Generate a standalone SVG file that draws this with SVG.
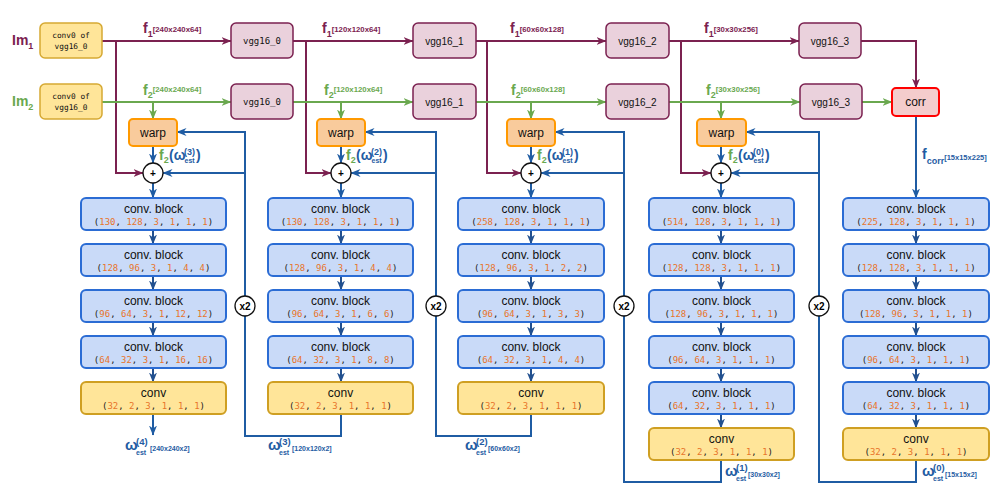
<svg xmlns="http://www.w3.org/2000/svg" width="1003" height="494" viewBox="0 0 1003 494">
<style>
text{font-family:"Liberation Sans",Arial,sans-serif}
.cb{fill:#c9daf8;stroke:#2b6cd4;stroke-width:2}
.cv{fill:#ffe599;stroke:#cf9f22;stroke-width:2}
.c0{fill:#ffe599;stroke:#d6a933;stroke-width:1.5}
.vg{fill:#ead1dc;stroke:#7b2150;stroke-width:1.5}
.wp{fill:#f9cb9c;stroke:#ff9900;stroke-width:2}
.cr{fill:#f4cccc;stroke:#ff0000;stroke-width:2}
.pc{fill:#fff;stroke:#111;stroke-width:1.3}
.t12{font-size:12px;fill:#111;text-anchor:middle}
.num{font-family:"DejaVu Sans Mono","Liberation Mono",monospace;font-size:9px;fill:#222;text-anchor:middle}
.o{fill:#e8742a}
.mono{font-family:"DejaVu Sans Mono","Liberation Mono",monospace;fill:#111;text-anchor:middle}
.vt{font-size:10px;fill:#111;text-anchor:middle}
.m{stroke:#7b2150;stroke-width:2;fill:none}
.g{stroke:#6aa84f;stroke-width:2;fill:none}
.b{stroke:#1f5ca3;stroke-width:2;fill:none}
.d{stroke:#22508f;stroke-width:2;fill:none}
.fm{fill:#7b2150;font-weight:bold}
.fg{fill:#6aa84f;font-weight:bold}
.fb{fill:#1f5ca3;font-weight:bold}
</style>
<defs>
<marker id="aM" viewBox="0 0 10 10" refX="9.5" refY="5" markerWidth="10" markerHeight="10" markerUnits="userSpaceOnUse" orient="auto"><path d="M0,1 L10,5 L0,9 L3,5 z" fill="#7b2150"/></marker>
<marker id="aG" viewBox="0 0 10 10" refX="9.5" refY="5" markerWidth="10" markerHeight="10" markerUnits="userSpaceOnUse" orient="auto"><path d="M0,1 L10,5 L0,9 L3,5 z" fill="#6aa84f"/></marker>
<marker id="aB" viewBox="0 0 10 10" refX="9.5" refY="5" markerWidth="10" markerHeight="10" markerUnits="userSpaceOnUse" orient="auto"><path d="M0,1 L10,5 L0,9 L3,5 z" fill="#1f5ca3"/></marker>
<marker id="aD" viewBox="0 0 10 10" refX="9.5" refY="5" markerWidth="10" markerHeight="10" markerUnits="userSpaceOnUse" orient="auto"><path d="M0,1 L10,5 L0,9 L3,5 z" fill="#22508f"/></marker>
</defs>
<rect width="1003" height="494" fill="#fff"/>

<!-- connectors -->
<g id="connectors">
<path class="m" marker-end="url(#aM)" d="M102,41 H231"/>
<path class="m" marker-end="url(#aM)" d="M293,41 H413"/>
<path class="m" marker-end="url(#aM)" d="M476,41 H606"/>
<path class="m" marker-end="url(#aM)" d="M669,41 H799"/>
<path class="m" marker-end="url(#aM)" d="M861,41 H916 V88"/>
<path class="m" marker-end="url(#aM)" d="M116,41 V173 H143"/>
<path class="m" marker-end="url(#aM)" d="M306,41 V173 H331"/>
<path class="m" marker-end="url(#aM)" d="M487,41 V173 H521"/>
<path class="m" marker-end="url(#aM)" d="M681,41 V173 H711"/>

<path class="g" marker-end="url(#aG)" d="M102,102 H231"/>
<path class="g" marker-end="url(#aG)" d="M293,102 H413"/>
<path class="g" marker-end="url(#aG)" d="M476,102 H606"/>
<path class="g" marker-end="url(#aG)" d="M669,102 H800"/>
<path class="g" marker-end="url(#aG)" d="M862,102 H892"/>
<path class="g" marker-end="url(#aG)" d="M153,102 V119"/>
<path class="g" marker-end="url(#aG)" d="M341,102 V119"/>
<path class="g" marker-end="url(#aG)" d="M531,102 V119"/>
<path class="g" marker-end="url(#aG)" d="M721,102 V119"/>

<path class="b" marker-end="url(#aB)" d="M153,146 V163"/>
<path class="b" marker-end="url(#aB)" d="M341,146 V163"/>
<path class="b" marker-end="url(#aB)" d="M531,146 V163"/>
<path class="b" marker-end="url(#aB)" d="M721,146 V163"/>
<path class="b" marker-end="url(#aB)" d="M153,183 V198"/>
<path class="b" marker-end="url(#aB)" d="M341,183 V198"/>
<path class="b" marker-end="url(#aB)" d="M531,183 V198"/>
<path class="b" marker-end="url(#aB)" d="M721,183 V198"/>
<path class="b" marker-end="url(#aB)" d="M916,116 V198"/>

<path class="b" marker-end="url(#aB)" d="M341,414 V436 H245 V132 H177"/>
<path class="b" marker-end="url(#aB)" d="M245,173 H163"/>
<path class="b" marker-end="url(#aB)" d="M531,414 V436 H436 V132 H365"/>
<path class="b" marker-end="url(#aB)" d="M436,173 H351"/>
<path class="b" marker-end="url(#aB)" d="M721,460 V482 H624 V132 H555"/>
<path class="b" marker-end="url(#aB)" d="M624,173 H541"/>
<path class="b" marker-end="url(#aB)" d="M916,460 V482 H819 V132 H746"/>
<path class="b" marker-end="url(#aB)" d="M819,173 H731"/>
<path class="b" marker-end="url(#aB)" d="M153,414 V435"/>

<g class="d" marker-end="url(#aD)">
<path d="M153,230 V244"/><path d="M153,276 V290"/><path d="M153,322 V336"/><path d="M153,368 V382"/>
<path d="M341,230 V244"/><path d="M341,276 V290"/><path d="M341,322 V336"/><path d="M341,368 V382"/>
<path d="M531,230 V244"/><path d="M531,276 V290"/><path d="M531,322 V336"/><path d="M531,368 V382"/>
<path d="M721,230 V244"/><path d="M721,276 V290"/><path d="M721,322 V336"/><path d="M721,368 V382"/><path d="M721,414 V428"/>
<path d="M916,230 V244"/><path d="M916,276 V290"/><path d="M916,322 V336"/><path d="M916,368 V382"/><path d="M916,414 V428"/>
</g>
</g>

<!-- inputs -->
<g id="im1"><text x="12" y="45" font-size="14" class="fm">Im<tspan font-size="9" dy="4">1</tspan></text></g>
<g id="im2"><text x="12" y="106" font-size="14" class="fg">Im<tspan font-size="9" dy="4">2</tspan></text></g>
<g id="conv0_1"><rect class="c0" x="40" y="23" width="62" height="35" rx="5"/><text class="mono" font-size="7.8" x="71" y="38">conv0 of</text><text class="mono" font-size="7.8" x="71" y="49">vgg16_0</text></g>
<g id="conv0_2"><rect class="c0" x="40" y="84" width="62" height="35" rx="5"/><text class="mono" font-size="7.8" x="71" y="99">conv0 of</text><text class="mono" font-size="7.8" x="71" y="110">vgg16_0</text></g>

<!-- vgg -->
<g id="vgg16_0a"><rect class="vg" x="231" y="23" width="62" height="35" rx="5"/><text class="mono" font-size="9" x="262" y="44">vgg16_0</text></g>
<g id="vgg16_0b"><rect class="vg" x="231" y="84" width="62" height="35" rx="5"/><text class="mono" font-size="9" x="262" y="105">vgg16_0</text></g>
<g id="vgg16_1a"><rect class="vg" x="413" y="23" width="63" height="35" rx="5"/><text class="vt" x="444.5" y="44.5">vgg16_1</text></g>
<g id="vgg16_1b"><rect class="vg" x="413" y="84" width="63" height="35" rx="5"/><text class="vt" x="444.5" y="105.5">vgg16_1</text></g>
<g id="vgg16_2a"><rect class="vg" x="606" y="23" width="63" height="35" rx="5"/><text class="vt" x="637.5" y="44.5">vgg16_2</text></g>
<g id="vgg16_2b"><rect class="vg" x="606" y="84" width="63" height="35" rx="5"/><text class="vt" x="637.5" y="105.5">vgg16_2</text></g>
<g id="vgg16_3a"><rect class="vg" x="799" y="23" width="62" height="35" rx="5"/><text class="vt" x="830" y="44.5">vgg16_3</text></g>
<g id="vgg16_3b"><rect class="vg" x="800" y="84" width="62" height="35" rx="5"/><text class="vt" x="831" y="105.5">vgg16_3</text></g>
<g id="corr"><rect class="cr" x="892" y="88" width="47" height="28" rx="4"/><text class="t12" x="915.5" y="106">corr</text></g>

<!-- feature labels -->
<g id="labels">
<text x="143" y="33" font-size="14" class="fm">f<tspan font-size="9" dy="4">1</tspan><tspan font-size="7.8" dy="-5">[240x240x64]</tspan></text>
<text x="322" y="33" font-size="14" class="fm">f<tspan font-size="9" dy="4">1</tspan><tspan font-size="7.8" dy="-5">[120x120x64]</tspan></text>
<text x="510" y="33" font-size="14" class="fm">f<tspan font-size="9" dy="4">1</tspan><tspan font-size="7.8" dy="-5">[60x60x128]</tspan></text>
<text x="704" y="33" font-size="14" class="fm">f<tspan font-size="9" dy="4">1</tspan><tspan font-size="7.8" dy="-5">[30x30x256]</tspan></text>
<text x="143" y="95" font-size="14" class="fg">f<tspan font-size="9" dy="3">2</tspan><tspan font-size="7.8" dy="-6">[240x240x64]</tspan></text>
<text x="324" y="95" font-size="14" class="fg">f<tspan font-size="9" dy="3">2</tspan><tspan font-size="7.8" dy="-6">[120x120x64]</tspan></text>
<text x="511" y="95" font-size="14" class="fg">f<tspan font-size="9" dy="3">2</tspan><tspan font-size="7.8" dy="-6">[60x60x128]</tspan></text>
<text x="706" y="95" font-size="14" class="fg">f<tspan font-size="9" dy="3">2</tspan><tspan font-size="7.8" dy="-6">[30x30x256]</tspan></text>
<text x="922" y="159" font-size="14" class="fb">f<tspan font-size="9" dy="5">corr</tspan><tspan font-size="7.5" dy="-4">[15x15x225]</tspan></text>
</g>

<!-- warped labels f2(w) -->
<g id="wlabels">
<g transform="translate(0,0)"><text x="159" y="160" font-size="14" class="fg">f<tspan font-size="9" dy="3">2</tspan></text><text x="169" y="160" font-size="14" class="fb">(ω</text><text x="184" y="155" font-size="9" class="fb">(3)</text><text x="184.5" y="163" font-size="7" class="fb">est</text><text x="196" y="160" font-size="14" class="fb">)</text></g>
<g transform="translate(187,0)"><text x="159" y="160" font-size="14" class="fg">f<tspan font-size="9" dy="3">2</tspan></text><text x="169" y="160" font-size="14" class="fb">(ω</text><text x="184" y="155" font-size="9" class="fb">(2)</text><text x="184.5" y="163" font-size="7" class="fb">est</text><text x="196" y="160" font-size="14" class="fb">)</text></g>
<g transform="translate(378,0)"><text x="159" y="160" font-size="14" class="fg">f<tspan font-size="9" dy="3">2</tspan></text><text x="169" y="160" font-size="14" class="fb">(ω</text><text x="184" y="155" font-size="9" class="fb">(1)</text><text x="184.5" y="163" font-size="7" class="fb">est</text><text x="196" y="160" font-size="14" class="fb">)</text></g>
<g transform="translate(569,0)"><text x="159" y="160" font-size="14" class="fg">f<tspan font-size="9" dy="3">2</tspan></text><text x="169" y="160" font-size="14" class="fb">(ω</text><text x="184" y="155" font-size="9" class="fb">(0)</text><text x="184.5" y="163" font-size="7" class="fb">est</text><text x="196" y="160" font-size="14" class="fb">)</text></g>
</g>

<!-- output labels -->
<g id="outlabels">
<g transform="translate(0,0)"><text x="125" y="450" font-size="15" class="fb">ω</text><text x="136" y="445" font-size="9.5" class="fb">(4)</text><text x="136" y="455" font-size="7" class="fb">est</text><text x="150" y="451" font-size="7" class="fb">[240x240x2]</text></g>
<g transform="translate(143,0)"><text x="125" y="450" font-size="15" class="fb">ω</text><text x="136" y="445" font-size="9.5" class="fb">(3)</text><text x="136" y="455" font-size="7" class="fb">est</text><text x="149" y="451" font-size="7" class="fb">[120x120x2]</text></g>
<g transform="translate(340,0)"><text x="125" y="450" font-size="15" class="fb">ω</text><text x="136" y="445" font-size="9.5" class="fb">(2)</text><text x="136" y="455" font-size="7" class="fb">est</text><text x="148" y="451" font-size="7" class="fb">[60x60x2]</text></g>
<g transform="translate(600,26)"><text x="125" y="450" font-size="15" class="fb">ω</text><text x="136" y="445" font-size="9.5" class="fb">(1)</text><text x="136" y="455" font-size="7" class="fb">est</text><text x="148" y="451" font-size="7" class="fb">[30x30x2]</text></g>
<g transform="translate(797,26)"><text x="125" y="450" font-size="15" class="fb">ω</text><text x="136" y="445" font-size="9.5" class="fb">(0)</text><text x="136" y="455" font-size="7" class="fb">est</text><text x="148" y="451" font-size="7" class="fb">[15x15x2]</text></g>
</g>

<!-- warp + plus -->
<g id="warp3"><rect class="wp" x="129" y="119" width="48" height="27" rx="4"/><text class="t12" x="153" y="137">warp</text></g>
<g id="warp2"><rect class="wp" x="317" y="119" width="48" height="27" rx="4"/><text class="t12" x="341" y="137">warp</text></g>
<g id="warp1"><rect class="wp" x="507" y="119" width="48" height="27" rx="4"/><text class="t12" x="531" y="137">warp</text></g>
<g id="warp0"><rect class="wp" x="697" y="119" width="49" height="27" rx="4"/><text class="t12" x="721.5" y="137">warp</text></g>
<g id="plus3"><circle class="pc" cx="153" cy="173" r="10"/><text x="153" y="176.5" font-size="10" font-weight="bold" text-anchor="middle">+</text></g>
<g id="plus2"><circle class="pc" cx="341" cy="173" r="10"/><text x="341" y="176.5" font-size="10" font-weight="bold" text-anchor="middle">+</text></g>
<g id="plus1"><circle class="pc" cx="531" cy="173" r="10"/><text x="531" y="176.5" font-size="10" font-weight="bold" text-anchor="middle">+</text></g>
<g id="plus0"><circle class="pc" cx="721" cy="173" r="10"/><text x="721" y="176.5" font-size="10" font-weight="bold" text-anchor="middle">+</text></g>
<g id="x2a"><circle class="pc" cx="245" cy="306" r="10"/><text x="245" y="309.5" font-size="10" font-weight="bold" text-anchor="middle">x2</text></g>
<g id="x2b"><circle class="pc" cx="436" cy="306" r="10"/><text x="436" y="309.5" font-size="10" font-weight="bold" text-anchor="middle">x2</text></g>
<g id="x2c"><circle class="pc" cx="624" cy="306" r="10"/><text x="624" y="309.5" font-size="10" font-weight="bold" text-anchor="middle">x2</text></g>
<g id="x2d"><circle class="pc" cx="819" cy="306" r="10"/><text x="819" y="309.5" font-size="10" font-weight="bold" text-anchor="middle">x2</text></g>

<!-- column 1 -->
<g id="c1b1"><rect class="cb" x="81" y="198" width="145" height="32" rx="5"/><text class="t12" x="153.5" y="213">conv. block</text><text class="num" x="153.5" y="225">(<tspan class="o">130</tspan>, <tspan class="o">128</tspan>, <tspan class="o">3</tspan>, <tspan class="o">1</tspan>, <tspan class="o">1</tspan>, <tspan class="o">1</tspan>)</text></g>
<g id="c1b2"><rect class="cb" x="81" y="244" width="145" height="32" rx="5"/><text class="t12" x="153.5" y="259">conv. block</text><text class="num" x="153.5" y="271">(<tspan class="o">128</tspan>, <tspan class="o">96</tspan>, <tspan class="o">3</tspan>, <tspan class="o">1</tspan>, <tspan class="o">4</tspan>, <tspan class="o">4</tspan>)</text></g>
<g id="c1b3"><rect class="cb" x="81" y="290" width="145" height="32" rx="5"/><text class="t12" x="153.5" y="305">conv. block</text><text class="num" x="153.5" y="317">(<tspan class="o">96</tspan>, <tspan class="o">64</tspan>, <tspan class="o">3</tspan>, <tspan class="o">1</tspan>, <tspan class="o">12</tspan>, <tspan class="o">12</tspan>)</text></g>
<g id="c1b4"><rect class="cb" x="81" y="336" width="145" height="32" rx="5"/><text class="t12" x="153.5" y="351">conv. block</text><text class="num" x="153.5" y="363">(<tspan class="o">64</tspan>, <tspan class="o">32</tspan>, <tspan class="o">3</tspan>, <tspan class="o">1</tspan>, <tspan class="o">16</tspan>, <tspan class="o">16</tspan>)</text></g>
<g id="c1cv"><rect class="cv" x="81" y="382" width="145" height="32" rx="5"/><text class="t12" x="153.5" y="397">conv</text><text class="num" x="153.5" y="409">(<tspan class="o">32</tspan>, <tspan class="o">2</tspan>, <tspan class="o">3</tspan>, <tspan class="o">1</tspan>, <tspan class="o">1</tspan>, <tspan class="o">1</tspan>)</text></g>

<!-- column 2 -->
<g id="c2b1"><rect class="cb" x="268" y="198" width="145" height="32" rx="5"/><text class="t12" x="340.5" y="213">conv. block</text><text class="num" x="340.5" y="225">(<tspan class="o">130</tspan>, <tspan class="o">128</tspan>, <tspan class="o">3</tspan>, <tspan class="o">1</tspan>, <tspan class="o">1</tspan>, <tspan class="o">1</tspan>)</text></g>
<g id="c2b2"><rect class="cb" x="268" y="244" width="145" height="32" rx="5"/><text class="t12" x="340.5" y="259">conv. block</text><text class="num" x="340.5" y="271">(<tspan class="o">128</tspan>, <tspan class="o">96</tspan>, <tspan class="o">3</tspan>, <tspan class="o">1</tspan>, <tspan class="o">4</tspan>, <tspan class="o">4</tspan>)</text></g>
<g id="c2b3"><rect class="cb" x="268" y="290" width="145" height="32" rx="5"/><text class="t12" x="340.5" y="305">conv. block</text><text class="num" x="340.5" y="317">(<tspan class="o">96</tspan>, <tspan class="o">64</tspan>, <tspan class="o">3</tspan>, <tspan class="o">1</tspan>, <tspan class="o">6</tspan>, <tspan class="o">6</tspan>)</text></g>
<g id="c2b4"><rect class="cb" x="268" y="336" width="145" height="32" rx="5"/><text class="t12" x="340.5" y="351">conv. block</text><text class="num" x="340.5" y="363">(<tspan class="o">64</tspan>, <tspan class="o">32</tspan>, <tspan class="o">3</tspan>, <tspan class="o">1</tspan>, <tspan class="o">8</tspan>, <tspan class="o">8</tspan>)</text></g>
<g id="c2cv"><rect class="cv" x="268" y="382" width="145" height="32" rx="5"/><text class="t12" x="340.5" y="397">conv</text><text class="num" x="340.5" y="409">(<tspan class="o">32</tspan>, <tspan class="o">2</tspan>, <tspan class="o">3</tspan>, <tspan class="o">1</tspan>, <tspan class="o">1</tspan>, <tspan class="o">1</tspan>)</text></g>

<!-- column 3 -->
<g id="c3b1"><rect class="cb" x="458" y="198" width="146" height="32" rx="5"/><text class="t12" x="531" y="213">conv. block</text><text class="num" x="531" y="225">(<tspan class="o">258</tspan>, <tspan class="o">128</tspan>, <tspan class="o">3</tspan>, <tspan class="o">1</tspan>, <tspan class="o">1</tspan>, <tspan class="o">1</tspan>)</text></g>
<g id="c3b2"><rect class="cb" x="458" y="244" width="146" height="32" rx="5"/><text class="t12" x="531" y="259">conv. block</text><text class="num" x="531" y="271">(<tspan class="o">128</tspan>, <tspan class="o">96</tspan>, <tspan class="o">3</tspan>, <tspan class="o">1</tspan>, <tspan class="o">2</tspan>, <tspan class="o">2</tspan>)</text></g>
<g id="c3b3"><rect class="cb" x="458" y="290" width="146" height="32" rx="5"/><text class="t12" x="531" y="305">conv. block</text><text class="num" x="531" y="317">(<tspan class="o">96</tspan>, <tspan class="o">64</tspan>, <tspan class="o">3</tspan>, <tspan class="o">1</tspan>, <tspan class="o">3</tspan>, <tspan class="o">3</tspan>)</text></g>
<g id="c3b4"><rect class="cb" x="458" y="336" width="146" height="32" rx="5"/><text class="t12" x="531" y="351">conv. block</text><text class="num" x="531" y="363">(<tspan class="o">64</tspan>, <tspan class="o">32</tspan>, <tspan class="o">3</tspan>, <tspan class="o">1</tspan>, <tspan class="o">4</tspan>, <tspan class="o">4</tspan>)</text></g>
<g id="c3cv"><rect class="cv" x="458" y="382" width="146" height="32" rx="5"/><text class="t12" x="531" y="397">conv</text><text class="num" x="531" y="409">(<tspan class="o">32</tspan>, <tspan class="o">2</tspan>, <tspan class="o">3</tspan>, <tspan class="o">1</tspan>, <tspan class="o">1</tspan>, <tspan class="o">1</tspan>)</text></g>

<!-- column 4 -->
<g id="c4b1"><rect class="cb" x="649" y="198" width="145" height="32" rx="5"/><text class="t12" x="721.5" y="213">conv. block</text><text class="num" x="721.5" y="225">(<tspan class="o">514</tspan>, <tspan class="o">128</tspan>, <tspan class="o">3</tspan>, <tspan class="o">1</tspan>, <tspan class="o">1</tspan>, <tspan class="o">1</tspan>)</text></g>
<g id="c4b2"><rect class="cb" x="649" y="244" width="145" height="32" rx="5"/><text class="t12" x="721.5" y="259">conv. block</text><text class="num" x="721.5" y="271">(<tspan class="o">128</tspan>, <tspan class="o">128</tspan>, <tspan class="o">3</tspan>, <tspan class="o">1</tspan>, <tspan class="o">1</tspan>, <tspan class="o">1</tspan>)</text></g>
<g id="c4b3"><rect class="cb" x="649" y="290" width="145" height="32" rx="5"/><text class="t12" x="721.5" y="305">conv. block</text><text class="num" x="721.5" y="317">(<tspan class="o">128</tspan>, <tspan class="o">96</tspan>, <tspan class="o">3</tspan>, <tspan class="o">1</tspan>, <tspan class="o">1</tspan>, <tspan class="o">1</tspan>)</text></g>
<g id="c4b4"><rect class="cb" x="649" y="336" width="145" height="32" rx="5"/><text class="t12" x="721.5" y="351">conv. block</text><text class="num" x="721.5" y="363">(<tspan class="o">96</tspan>, <tspan class="o">64</tspan>, <tspan class="o">3</tspan>, <tspan class="o">1</tspan>, <tspan class="o">1</tspan>, <tspan class="o">1</tspan>)</text></g>
<g id="c4b5"><rect class="cb" x="649" y="382" width="145" height="32" rx="5"/><text class="t12" x="721.5" y="397">conv. block</text><text class="num" x="721.5" y="409">(<tspan class="o">64</tspan>, <tspan class="o">32</tspan>, <tspan class="o">3</tspan>, <tspan class="o">1</tspan>, <tspan class="o">1</tspan>, <tspan class="o">1</tspan>)</text></g>
<g id="c4cv"><rect class="cv" x="649" y="428" width="145" height="32" rx="5"/><text class="t12" x="721.5" y="443">conv</text><text class="num" x="721.5" y="455">(<tspan class="o">32</tspan>, <tspan class="o">2</tspan>, <tspan class="o">3</tspan>, <tspan class="o">1</tspan>, <tspan class="o">1</tspan>, <tspan class="o">1</tspan>)</text></g>

<!-- column 5 -->
<g id="c5b1"><rect class="cb" x="843" y="198" width="146" height="32" rx="5"/><text class="t12" x="916" y="213">conv. block</text><text class="num" x="916" y="225">(<tspan class="o">225</tspan>, <tspan class="o">128</tspan>, <tspan class="o">3</tspan>, <tspan class="o">1</tspan>, <tspan class="o">1</tspan>, <tspan class="o">1</tspan>)</text></g>
<g id="c5b2"><rect class="cb" x="843" y="244" width="146" height="32" rx="5"/><text class="t12" x="916" y="259">conv. block</text><text class="num" x="916" y="271">(<tspan class="o">128</tspan>, <tspan class="o">128</tspan>, <tspan class="o">3</tspan>, <tspan class="o">1</tspan>, <tspan class="o">1</tspan>, <tspan class="o">1</tspan>)</text></g>
<g id="c5b3"><rect class="cb" x="843" y="290" width="146" height="32" rx="5"/><text class="t12" x="916" y="305">conv. block</text><text class="num" x="916" y="317">(<tspan class="o">128</tspan>, <tspan class="o">96</tspan>, <tspan class="o">3</tspan>, <tspan class="o">1</tspan>, <tspan class="o">1</tspan>, <tspan class="o">1</tspan>)</text></g>
<g id="c5b4"><rect class="cb" x="843" y="336" width="146" height="32" rx="5"/><text class="t12" x="916" y="351">conv. block</text><text class="num" x="916" y="363">(<tspan class="o">96</tspan>, <tspan class="o">64</tspan>, <tspan class="o">3</tspan>, <tspan class="o">1</tspan>, <tspan class="o">1</tspan>, <tspan class="o">1</tspan>)</text></g>
<g id="c5b5"><rect class="cb" x="843" y="382" width="146" height="32" rx="5"/><text class="t12" x="916" y="397">conv. block</text><text class="num" x="916" y="409">(<tspan class="o">64</tspan>, <tspan class="o">32</tspan>, <tspan class="o">3</tspan>, <tspan class="o">1</tspan>, <tspan class="o">1</tspan>, <tspan class="o">1</tspan>)</text></g>
<g id="c5cv"><rect class="cv" x="843" y="428" width="146" height="32" rx="5"/><text class="t12" x="916" y="443">conv</text><text class="num" x="916" y="455">(<tspan class="o">32</tspan>, <tspan class="o">2</tspan>, <tspan class="o">3</tspan>, <tspan class="o">1</tspan>, <tspan class="o">1</tspan>, <tspan class="o">1</tspan>)</text></g>
</svg>
